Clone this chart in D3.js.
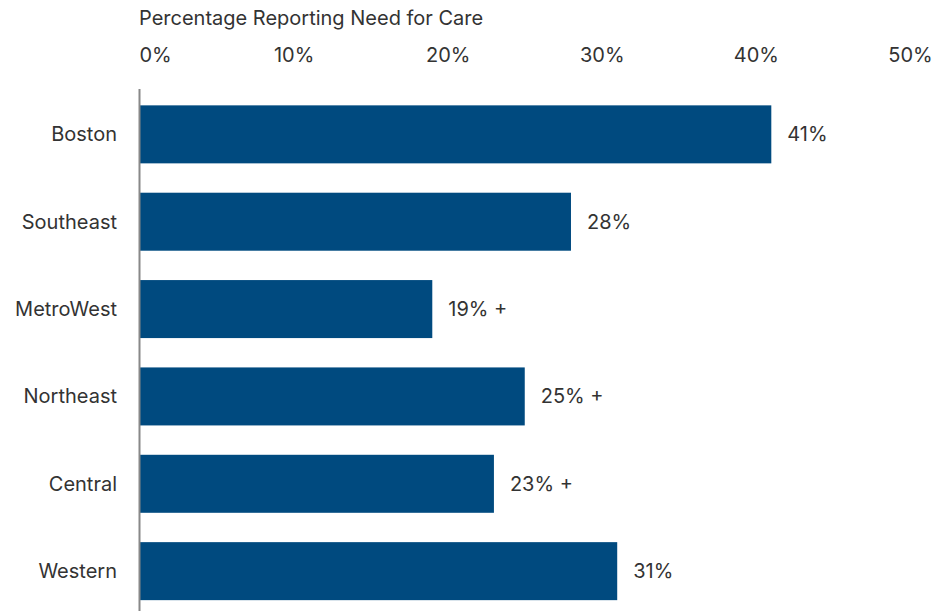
<!DOCTYPE html>
<html><head><meta charset="utf-8">
<script src="https://cdn.jsdelivr.net/npm/d3@7"></script>
<style>body{margin:0;background:#fff;} text{font-family:Inter, "Noto Sans", sans-serif;}</style>
</head><body>
<svg id="chart" width="944" height="611"></svg>
<script>
const categories = ["Boston","Southeast","MetroWest","Northeast","Central","Western"];
const values = [41, 28, 19, 25, 23, 31];
const valueLabels = ["41%","28%","19% +","25% +","23% +","31%"];
const tickValues = [0,10,20,30,40,50];
const tickLabels = ["0%","10%","20%","30%","40%","50%"];
const axisTitle = "Percentage Reporting Need for Care";

const svg = d3.select("#chart");
const x = d3.scaleLinear().domain([0,50]).range([139.5,910]);
const y = d3.scaleBand().domain(categories).range([90.5,615]).paddingInner(0.336).paddingOuter(0.17);
const textColor = "#333";
const fs = 20;

svg.append("text").attr("x",139).attr("y",25).attr("fill",textColor)
  .attr("font-size",fs).text(axisTitle);

const xAxis = svg.append("g").attr("transform","translate(0,62)")
  .call(d3.axisTop(x).tickValues(tickValues).tickFormat((d,i)=>tickLabels[i]).tickSize(0).tickPadding(0));
xAxis.select(".domain").remove();
xAxis.selectAll("text").attr("font-size",fs).attr("fill",textColor).attr("font-family","Inter, 'Noto Sans', sans-serif")
  .attr("dy",0)
  .attr("text-anchor",(d,i)=> i===0 ? "start" : "middle")
  .attr("dx",(d,i)=> i===0 ? -0.5 : 0);

svg.selectAll("rect.bar").data(values).join("rect").attr("class","bar")
  .attr("x",x(0)+0.5).attr("y",(d,i)=>y(categories[i]))
  .attr("width",d=>x(d)-x(0)-0.5).attr("height",y.bandwidth())
  .attr("fill","#004a7f");

svg.append("line").attr("x1",139.5).attr("x2",139.5).attr("y1",89).attr("y2",611)
  .attr("stroke","#888").attr("stroke-width",2);

svg.selectAll("text.val").data(values).join("text").attr("class","val")
  .attr("x",d=>x(d)+16).attr("y",(d,i)=>y(categories[i])+y.bandwidth()/2)
  .attr("dy","0.35em").attr("font-size",fs).attr("fill",textColor)
  .text((d,i)=>valueLabels[i]);

svg.selectAll("text.cat").data(categories).join("text").attr("class","cat")
  .attr("x",117).attr("y",d=>y(d)+y.bandwidth()/2)
  .attr("dy","0.35em").attr("text-anchor","end").attr("font-size",fs).attr("fill",textColor)
  .text(d=>d);
</script>
</body></html>
